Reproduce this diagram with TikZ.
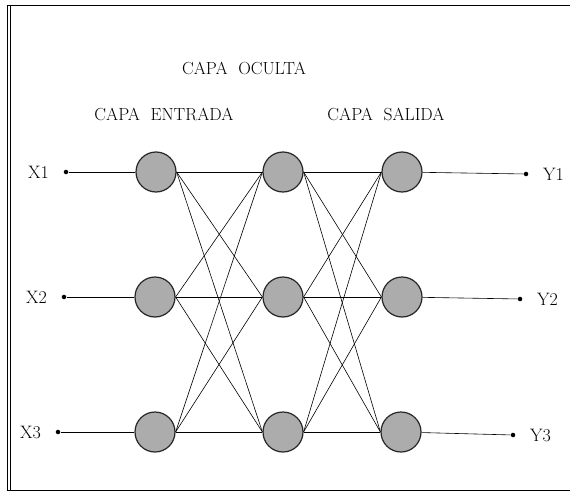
\documentclass[tikz,border=0pt]{standalone}
\begin{document}
\begin{tikzpicture}[x=1pt, y=-1pt, every path/.style={line width=0.6pt},
  neuron/.style={circle, fill=gray!65, draw=black!85, line width=1.2pt, minimum size=40pt, inner sep=0pt},
  pin/.style={circle, fill=black, inner sep=1.6pt},
  capa/.style={font=\fontsize{17.5}{20}\selectfont},
  every label/.style={font=\fontsize{18}{20}\selectfont, label distance=11pt}]
			\useasboundingbox (0,0) rectangle (570,495);
			\draw[line width=0.8pt] (572,5) -- (7,5) -- (7,490) -- (572,490);
			\draw[line width=0.6pt] (10,5) -- (10,490);
			\node[capa] (oculta) at (244,68) {CAPA\ \ OCULTA};
			\node[capa] (entrada) at (164,114) {CAPA\ \ ENTRADA};
			\node[capa] (salida) at (386,114) {CAPA\ \ SALIDA};
			\node[pin, label=left:X1] (x1) at (66,172) {};
			\node[pin, label=left:X2] (x2) at (64,297) {};
			\node[pin, label=left:X3] (x3) at (58,432) {};
			\node[neuron] (e1) at (156,172) {};
			\node[neuron] (e2) at (155,297) {};
			\node[neuron] (e3) at (155,432) {};
			\node[neuron] (o1) at (283,172) {};
			\node[neuron] (o2) at (283,297) {};
			\node[neuron] (o3) at (283,432) {};
			\node[neuron] (s1) at (402,172) {};
			\node[neuron] (s2) at (402,297) {};
			\node[neuron] (s3) at (401,432) {};
			\node[pin, label=right:Y1] (y1) at (526,174) {};
			\node[pin, label=right:Y2] (y2) at (520,299) {};
			\node[pin, label=right:Y3] (y3) at (513,435) {};
			\foreach \i in {1,2,3} {
				\draw (x\i) -- (e\i);
				\draw (s\i) -- (y\i);
				\foreach \j in {1,2,3} {
					\draw (e\i.east) -- (o\j.west);
					\draw (o\i.east) -- (s\j.west);
				}
			}
		\end{tikzpicture}
\end{document}
